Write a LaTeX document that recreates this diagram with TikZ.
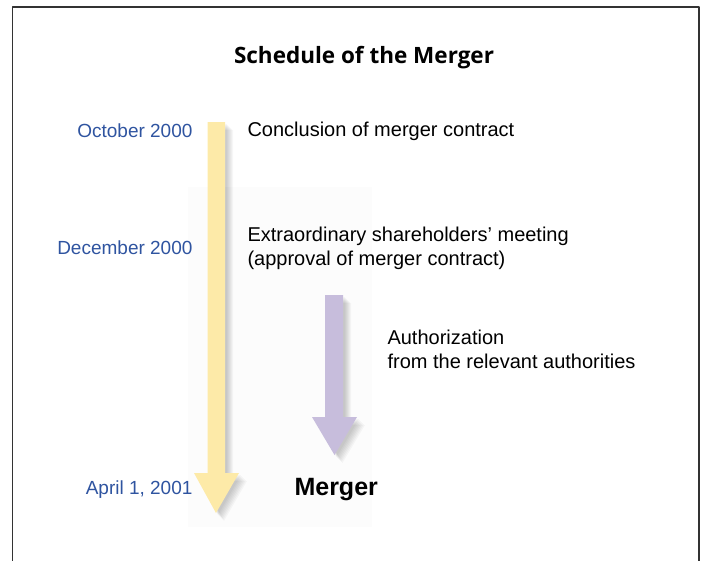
\documentclass[tikz,border=0pt]{standalone}
\usepackage{fontspec}
\setmainfont{Liberation Sans}
\newfontfamily\titlefont{Open Sans}
\definecolor{datecol}{RGB}{47,84,160}
\definecolor{yellowarr}{RGB}{253,234,168}
\definecolor{purplearr}{RGB}{199,189,220}
\tikzset{
  date/.style={anchor=east, text=datecol, font=\fontsize{19}{22}\selectfont},
  event/.style={anchor=west, align=left, font=\fontsize{20}{24}\selectfont},
  softshadow/.style={black, opacity=.032, xshift=#1pt, yshift=-#1pt}
}
\newcommand\timearrow{(207.5,122) -- (225,122) -- (225,473) -- (239,473)
        -- (216,513) -- (194,473) -- (207.5,473) -- cycle}
\newcommand\authzarrow{(325,295) -- (343,295) -- (343,417) -- (357,417)
        -- (334.5,455) -- (312,417) -- (325,417) -- cycle}
\begin{document}
\begin{tikzpicture}[x=1pt, y=-1pt, line join=round]
    \useasboundingbox (0,0) rectangle (702,560);
    % frame
    \draw[line width=1.4pt, black!80] (12.5,562) -- (12.5,7) -- (699,7) -- (699,562);
    % faint panel behind the arrows
    \fill[black!1] (188,187) rectangle (372,527);
    \node[font=\titlefont\bfseries\fontsize{22.5}{26}\selectfont] (title) at (364,58) {Schedule of the Merger};
    % shadows, then the arrows
    \foreach \s in {2,...,8}{
        \fill[softshadow=\s] \timearrow;
        \fill[softshadow=\s] \authzarrow;
    }
    \fill[yellowarr] \timearrow;
    \fill[purplearr] \authzarrow;
    % dates
    \node[date] (oct) at (196,131) {October 2000};
    \node[date] (dec) at (196,248) {December 2000};
    \node[date] (apr) at (196,490) {April 1, 2001};
    % events
    \node[event] (concl) at (244,131) {Conclusion of merger contract};
    \node[event] (meet) at (244,248) {Extraordinary shareholders’ meeting\\(approval of merger contract)};
    \node[event] (auth) at (384,349) {Authorization\\from the relevant authorities};
    \node[anchor=west, font=\bfseries\fontsize{25}{28}\selectfont] (merger) at (291,490) {Merger};
\end{tikzpicture}
\end{document}
